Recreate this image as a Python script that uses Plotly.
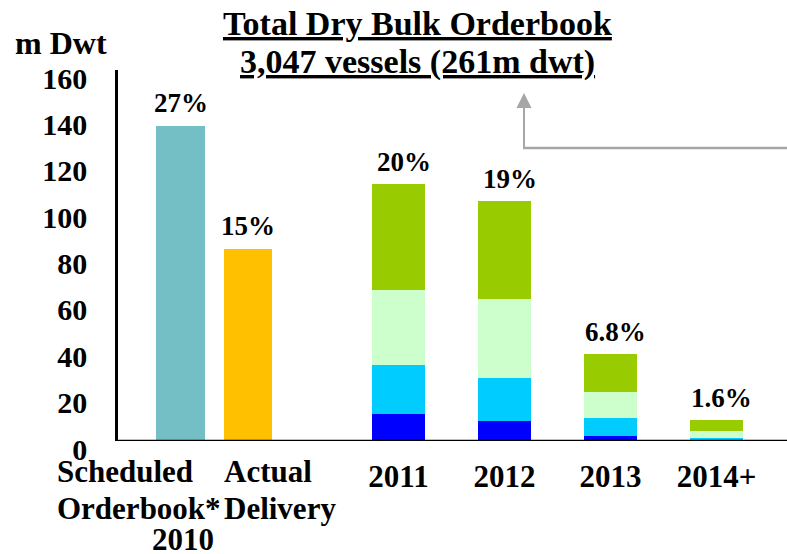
import plotly.graph_objects as go

# ---------------- data ----------------
group1_labels = [["Scheduled", "Orderbook*", "2010"], ["Actual", "Delivery"]]
group1_categories = ["Scheduled Orderbook* 2010", "Actual Delivery"]
group1_values = [136, 83]
group1_pct = ["27%", "15%"]

years = ["2011", "2012", "2013", "2014+"]
seg_dark_blue = [11.6, 8.6, 2.2, 0.3]
seg_cyan = [21.2, 18.6, 7.7, 1.0]
seg_pale_green = [32.3, 34.0, 11.2, 3.0]
seg_green = [45.7, 42.2, 16.4, 4.8]
years_pct = ["20%", "19%", "6.8%", "1.6%"]

y_ticks = [0, 20, 40, 60, 80, 100, 120, 140, 160]
y_title = "m Dwt"
title_line1 = "Total Dry Bulk Orderbook"
title_line2 = "3,047 vessels (261m dwt)"

# ---------------- style ----------------
W, H = 787, 554
FONT = "Liberation Serif"
def px_x(p): return p / W
def px_y(p): return 1 - p / H

fig = go.Figure()

fig.add_trace(go.Bar(
    x=group1_categories, y=group1_values, xaxis="x", yaxis="y",
    marker=dict(color=["#74BFC5", "#FFC000"], line=dict(width=0)),
    width=0.72, showlegend=False, hoverinfo="skip"))

seg_colors = ["#0000FF", "#00CCFF", "#CCFFCC", "#99CC00"]
for vals, col in zip([seg_dark_blue, seg_cyan, seg_pale_green, seg_green], seg_colors):
    fig.add_trace(go.Bar(
        x=years, y=vals, xaxis="x2", yaxis="y",
        marker=dict(color=col, line=dict(width=0)),
        width=0.5, showlegend=False, hoverinfo="skip"))

totals = [a + b + c + d for a, b, c, d in zip(seg_dark_blue, seg_cyan, seg_pale_green, seg_green)]

annotations = []
pct_font = dict(family=FONT, size=27, color="black")
for i, (v, t) in enumerate(zip(group1_values, group1_pct)):
    annotations.append(dict(x=i, y=v, xref="x", yref="y", text="<b>%s</b>" % t,
                            showarrow=False, yanchor="middle", yshift=23, font=pct_font))
for i, (v, t) in enumerate(zip(totals, years_pct)):
    annotations.append(dict(x=i, y=v, xref="x2", yref="y", text="<b>%s</b>" % t,
                            showarrow=False, yanchor="middle", yshift=22, xshift=5, font=pct_font))

lab_font = dict(family=FONT, size=31, color="black")
annotations += [
    dict(x=px_x(55), y=px_y(471), xref="paper", yref="paper", xanchor="left", yanchor="middle",
         text="<b>%s</b>" % group1_labels[0][0], showarrow=False, font=lab_font, height=30),
    dict(x=px_x(55), y=px_y(508), xref="paper", yref="paper", xanchor="left", yanchor="middle",
         text="<b>%s</b>" % group1_labels[0][1], showarrow=False, font=lab_font, height=30),
    dict(x=px_x(183), y=px_y(539), xref="paper", yref="paper", xanchor="center", yanchor="middle",
         text="<b>%s</b>" % group1_labels[0][2], showarrow=False, font=lab_font, height=28),
    dict(x=px_x(222), y=px_y(471), xref="paper", yref="paper", xanchor="left", yanchor="middle",
         text="<b>%s</b>" % group1_labels[1][0], showarrow=False, font=lab_font),
    dict(x=px_x(222), y=px_y(508), xref="paper", yref="paper", xanchor="left", yanchor="middle",
         text="<b>%s</b>" % group1_labels[1][1], showarrow=False, font=lab_font),
]
annotations.append(dict(x=px_x(13), y=px_y(43), xref="paper", yref="paper", xanchor="left",
                        yanchor="middle", text="<b>%s</b>" % y_title, showarrow=False,
                        font=dict(family=FONT, size=32, color="black")))
title_font = dict(family=FONT, size=34, color="black")
annotations.append(dict(x=px_x(417.5), y=px_y(24), xref="paper", yref="paper", xanchor="center",
                        yanchor="middle", text="<b><u>%s</u></b>" % title_line1, showarrow=False,
                        font=title_font))
annotations.append(dict(x=px_x(417.5), y=px_y(62), xref="paper", yref="paper", xanchor="center",
                        yanchor="middle", text="<b><u>%s</u></b>" % title_line2, showarrow=False,
                        font=title_font))
annotations.append(dict(x=px_x(524), y=px_y(93), xref="paper", yref="paper", text="",
                        showarrow=True, ax=0, ay=56, arrowhead=2, arrowsize=1.5, arrowwidth=2,
                        arrowcolor="#A6A6A6", standoff=0))

shapes = [
    dict(type="line", xref="paper", yref="paper", x0=px_x(523), x1=1.0, y0=px_y(148), y1=px_y(148),
         line=dict(color="#A6A6A6", width=2.5)),
    dict(type="line", xref="paper", yref="y", x0=px_x(115), x1=1.0, y0=0, y1=0,
         line=dict(color="black", width=2.5)),
]

ydom = [px_y(441), px_y(70)]
fig.update_layout(
    width=W, height=H, margin=dict(l=0, r=0, t=0, b=0, autoexpand=False),
    paper_bgcolor="white", plot_bgcolor="white", barmode="stack",
    xaxis=dict(domain=[px_x(146.75), px_x(281.75)], range=[-0.5, 1.5], anchor="y", type="category",
               automargin=False, showticklabels=False, showgrid=False, zeroline=False,
               showline=False),
    xaxis2=dict(domain=[px_x(345.5), px_x(769.5)], range=[-0.5, 3.5], anchor="y", type="category",
                automargin=False, showgrid=False, zeroline=False, showline=False, ticks="",
                tickfont=dict(family=FONT, size=31, color="black"),
                tickprefix="<b>", ticksuffix="</b>", ticklabelstandoff=14),
    yaxis=dict(domain=ydom, range=[0, 160], anchor="free", position=px_x(116), automargin=False,
               tickvals=y_ticks, ticktext=["<b>%d</b>" % v for v in y_ticks],
               tickfont=dict(family=FONT, size=30, color="black"),
               showgrid=False, zeroline=False, showline=True, linecolor="black", linewidth=2.5,
               ticks="", ticklabelstandoff=22, ticklabelshift=8),
    annotations=annotations, shapes=shapes, font=dict(family=FONT),
)

fig.write_html("out.html", config={"displayModeBar": False},
               post_script="document.body.style.margin='0';document.body.style.padding='0';")
